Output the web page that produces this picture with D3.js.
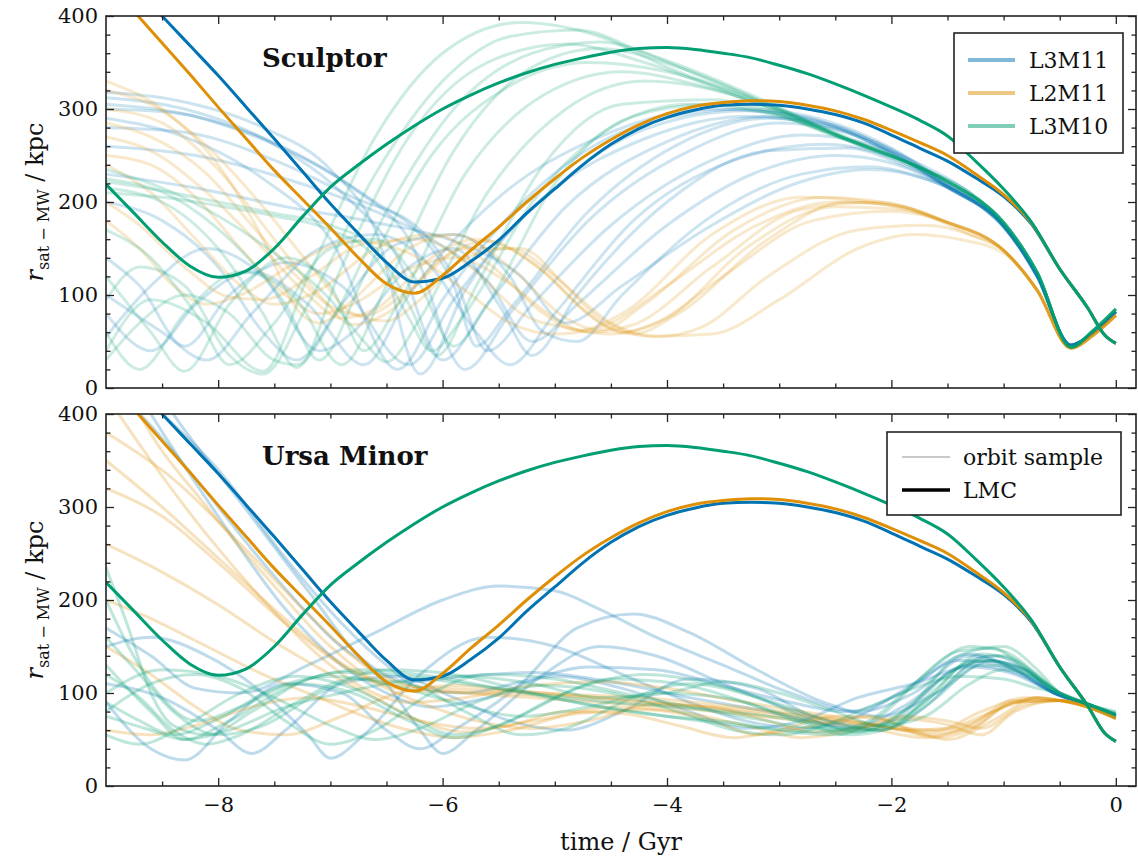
<!DOCTYPE html>
<html>
<head>
<meta charset="utf-8">
<style>
body { margin: 0; background: #fff; }
text { font-family: "DejaVu Serif", serif; fill: #111; }
.title { font-weight: bold; }
</style>
</head>
<body>
<svg id="chart" width="1138" height="860"></svg>
<script src="https://cdn.jsdelivr.net/npm/d3@7"></script>
<script>
// LMC orbits (same in both panels), r in kpc at lmcTimes (Gyr)
const lmcTimes = [-9,-8.75,-8.5,-8.25,-8,-7.75,-7.5,-7.25,-7,-6.75,-6.5,-6.25,-6,-5.75,-5.5,-5.25,-5,-4.75,-4.5,-4.25,-4,-3.75,-3.5,-3.25,-3,-2.75,-2.5,-2.25,-2,-1.75,-1.5,-1.25,-1,-0.75,-0.5,-0.25,-0.1,0];
const lmcL3M11 = [466,433,400,368,336,302,268,233,198,166,135,114,118,136,159,188,214,240,262,279,291,299,304,305,304,300,294,285,272,258,244,226,206,176,128,86,57,48];
const lmcL2M11 = [440,405,371,337,302,268,234,203,172,140,112,102,121,148,173,200,225,248,267,283,295,303,307,309,308,304,298,289,277,264,250,230,208,177,128,86,57,48];
const lmcL3M10 = [219,188,157,131,119,126,150,184,216,240,262,282,300,315,328,339,348,355,361,365,366,364,360,355,347,338,327,315,302,288,271,244,214,178,128,86,57,48];

// orbit samples, [time, r] knots
const sclL3M11 = [
  [[-9,290],[-8.3,270],[-7.6,225],[-7,160],[-6.4,20],[-6,95],[-5.2,210],[-4.3,280],[-3.3,300],[-2.6,288],[-2,258],[-1.5,220],[-1,176],[-0.7,122],[-0.4,46],[-0.2,60],[0,82]],
  [[-9,318],[-8.4,310],[-7.6,280],[-7,235],[-6.6,170],[-6.2,15],[-5.8,105],[-5,215],[-4.2,278],[-3.3,298],[-2.6,285],[-2,256],[-1.5,218],[-1,175],[-0.7,121],[-0.4,46],[-0.2,60],[0,82]],
  [[-9,312],[-8.3,300],[-7.5,262],[-6.9,210],[-6.4,140],[-6,30],[-5.6,90],[-4.9,195],[-4,265],[-3.1,292],[-2.5,282],[-2,254],[-1.5,216],[-1,174],[-0.7,120],[-0.4,46],[-0.2,59],[0,81]],
  [[-9,305],[-8.2,292],[-7.4,258],[-6.8,215],[-6.3,160],[-5.8,20],[-5.4,80],[-4.7,180],[-3.8,255],[-3,285],[-2.4,275],[-1.9,250],[-1.5,218],[-1,175],[-0.7,121],[-0.4,46],[-0.2,60],[0,82]],
  [[-9,280],[-8.3,275],[-7.5,245],[-6.8,205],[-6.2,170],[-5.9,120],[-5.6,40],[-5.2,90],[-4.5,175],[-3.6,245],[-2.8,272],[-2.2,262],[-1.7,238],[-1.2,200],[-0.9,160],[-0.7,121],[-0.4,46],[-0.2,60],[0,82]],
  [[-9,260],[-8.2,250],[-7.4,225],[-6.7,195],[-6.1,160],[-5.6,115],[-5.2,50],[-4.8,90],[-4,175],[-3.2,232],[-2.5,250],[-2,242],[-1.5,215],[-1,174],[-0.7,120],[-0.4,46],[-0.2,59],[0,81]],
  [[-9,230],[-8.2,215],[-7.4,195],[-6.6,178],[-5.9,158],[-5.3,120],[-4.9,70],[-4.4,110],[-3.6,175],[-2.8,222],[-2.2,235],[-1.7,225],[-1.2,195],[-0.9,158],[-0.7,120],[-0.4,46],[-0.2,60],[0,82]],
  [[-9,80],[-8.6,40],[-8.2,90],[-7.7,125],[-7.2,90],[-6.7,25],[-6.3,100],[-5.5,205],[-4.6,270],[-3.6,300],[-2.8,292],[-2.2,265],[-1.6,225],[-1,176],[-0.7,122],[-0.4,46],[-0.2,60],[0,82]],
  [[-9,140],[-8.7,110],[-8.3,45],[-7.9,100],[-7.4,135],[-6.9,110],[-6.3,25],[-5.9,95],[-5.1,205],[-4.2,268],[-3.3,292],[-2.6,282],[-2,253],[-1.5,216],[-1,174],[-0.7,120],[-0.4,46],[-0.2,60],[0,82]],
  [[-9,55],[-8.6,110],[-8.1,150],[-7.6,120],[-7.1,40],[-6.8,60],[-6.3,130],[-5.9,150],[-5.5,90],[-5.2,35],[-4.8,100],[-4,200],[-3.1,255],[-2.4,258],[-1.9,240],[-1.4,210],[-1,174],[-0.7,120],[-0.4,46],[-0.2,60],[0,82]],
  [[-9,100],[-8.5,60],[-8.1,30],[-7.7,80],[-7.1,150],[-6.6,165],[-6.1,130],[-5.7,60],[-5.4,25],[-5,80],[-4.3,180],[-3.4,245],[-2.6,262],[-2,248],[-1.5,216],[-1,174],[-0.7,120],[-0.4,46],[-0.2,60],[0,82]],
  [[-9,200],[-8.5,180],[-8,130],[-7.6,60],[-7.3,30],[-6.9,90],[-6.4,155],[-5.9,165],[-5.4,120],[-5.1,60],[-4.8,50],[-4.4,100],[-3.6,185],[-2.8,230],[-2.2,238],[-1.7,225],[-1.2,195],[-0.9,160],[-0.7,120],[-0.4,46],[-0.2,60],[0,82]],
  [[-9,300],[-8.4,296],[-7.7,272],[-7.1,238],[-6.6,200],[-6.2,165],[-5.9,110],[-5.7,45],[-5.4,85],[-4.7,190],[-3.9,262],[-3.1,290],[-2.5,280],[-2,252],[-1.5,216],[-1,174],[-0.7,120],[-0.4,46],[-0.2,60],[0,82]]
];
const sclL2M11 = [
  [[-9,330],[-8.5,300],[-8,240],[-7.6,160],[-7.3,85],[-7.1,70],[-6.8,95],[-6.3,150],[-5.9,165],[-5.4,130],[-4.9,75],[-4.6,62],[-4.2,90],[-3.4,170],[-2.6,205],[-2,198],[-1.5,178],[-1,148],[-0.7,105],[-0.4,43],[-0.2,57],[0,78]],
  [[-9,300],[-8.5,285],[-8,235],[-7.5,160],[-7.1,100],[-6.8,68],[-6.5,80],[-6,140],[-5.6,158],[-5.1,125],[-4.6,70],[-4.3,58],[-3.9,80],[-3.1,160],[-2.4,200],[-1.9,195],[-1.5,178],[-1,148],[-0.7,105],[-0.4,43],[-0.2,57],[0,78]],
  [[-9,270],[-8.6,255],[-8.1,210],[-7.6,150],[-7.2,100],[-6.9,75],[-6.6,85],[-6.1,140],[-5.7,160],[-5.2,135],[-4.7,80],[-4.4,60],[-4,75],[-3.3,150],[-2.5,195],[-1.9,192],[-1.5,178],[-1,148],[-0.7,105],[-0.4,43],[-0.2,57],[0,78]],
  [[-9,240],[-8.6,210],[-8.2,160],[-7.8,110],[-7.5,90],[-7.1,105],[-6.6,150],[-6.1,165],[-5.6,135],[-5.1,80],[-4.8,62],[-4.4,80],[-3.6,165],[-2.8,205],[-2.2,200],[-1.7,186],[-1.3,165],[-1,148],[-0.7,105],[-0.4,43],[-0.2,57],[0,78]],
  [[-9,200],[-8.7,175],[-8.3,130],[-7.9,98],[-7.6,95],[-7.2,118],[-6.7,155],[-6.2,160],[-5.7,125],[-5.3,80],[-4.9,65],[-4.5,58],[-4.1,70],[-3.5,120],[-2.7,180],[-2,190],[-1.5,178],[-1,148],[-0.7,105],[-0.4,43],[-0.2,57],[0,78]],
  [[-9,320],[-8.6,305],[-8.1,260],[-7.6,195],[-7.1,120],[-6.8,80],[-6.5,72],[-6.2,95],[-5.8,140],[-5.4,150],[-5,120],[-4.6,75],[-4.1,55],[-3.7,65],[-3.1,120],[-2.3,170],[-1.7,175],[-1.3,165],[-1,148],[-0.7,105],[-0.4,43],[-0.2,57],[0,78]],
  [[-9,180],[-8.7,150],[-8.4,110],[-8.1,90],[-7.8,100],[-7.3,135],[-6.8,158],[-6.3,145],[-5.8,105],[-5.4,70],[-5,58],[-4.6,65],[-4,110],[-3.2,175],[-2.5,200],[-1.9,195],[-1.5,178],[-1,148],[-0.7,105],[-0.4,43],[-0.2,57],[0,78]],
  [[-9,285],[-8.6,270],[-8.1,230],[-7.7,175],[-7.3,120],[-7,88],[-6.7,78],[-6.3,105],[-5.8,150],[-5.3,150],[-4.9,110],[-4.5,70],[-4.1,56],[-3.6,58],[-3,95],[-2.3,150],[-1.8,165],[-1.4,160],[-1,145],[-0.7,105],[-0.4,43],[-0.2,57],[0,78]],
  [[-9,250],[-8.6,240],[-8.2,205],[-7.8,150],[-7.4,100],[-7.1,80],[-6.8,90],[-6.3,128],[-5.9,140],[-5.4,112],[-5,75],[-4.7,60],[-4.3,68],[-3.6,130],[-2.8,192],[-2.1,200],[-1.6,182],[-1,148],[-0.7,105],[-0.4,43],[-0.2,57],[0,78]]
];
const sclL3M10 = [
  [[-9,40],[-8.6,95],[-8.1,70],[-7.6,18],[-7.2,120],[-6.6,270],[-6,360],[-5.3,393],[-4.6,378],[-4,345],[-3,300],[-2.3,262],[-1.7,232],[-1.2,198],[-0.9,160],[-0.7,124],[-0.4,44],[-0.2,62],[0,85]],
  [[-9,215],[-8.5,200],[-8,150],[-7.6,80],[-7.3,22],[-6.9,130],[-6.3,270],[-5.6,350],[-4.9,370],[-4.2,350],[-3.4,315],[-2.6,275],[-2,250],[-1.5,222],[-1,178],[-0.7,124],[-0.4,44],[-0.2,62],[0,85]],
  [[-9,225],[-8.4,205],[-7.9,160],[-7.4,90],[-7.1,30],[-6.7,120],[-6.1,250],[-5.4,325],[-4.7,350],[-4,340],[-3.2,308],[-2.5,272],[-2,250],[-1.5,222],[-1,178],[-0.7,124],[-0.4,44],[-0.2,62],[0,85]],
  [[-9,120],[-8.6,60],[-8.3,18],[-7.9,90],[-7.4,140],[-7,110],[-6.7,40],[-6.4,90],[-5.8,230],[-5.1,315],[-4.4,340],[-3.7,325],[-3,298],[-2.4,268],[-1.9,245],[-1.5,222],[-1,178],[-0.7,124],[-0.4,44],[-0.2,62],[0,85]],
  [[-9,222],[-8.5,212],[-8,200],[-7.5,188],[-7,175],[-6.6,150],[-6.3,90],[-6.05,35],[-5.7,110],[-5.1,240],[-4.4,305],[-3.6,310],[-2.9,290],[-2.3,262],[-1.8,240],[-1.4,215],[-1,178],[-0.7,124],[-0.4,44],[-0.2,62],[0,85]],
  [[-9,60],[-8.7,20],[-8.3,80],[-7.8,125],[-7.3,95],[-6.9,25],[-6.5,110],[-5.9,255],[-5.2,345],[-4.6,365],[-3.9,345],[-3.1,305],[-2.4,268],[-1.9,245],[-1.5,222],[-1,178],[-0.7,124],[-0.4,44],[-0.2,62],[0,85]],
  [[-9,210],[-8.5,205],[-8,196],[-7.5,185],[-7,170],[-6.6,140],[-6.3,75],[-6.1,40],[-5.8,80],[-5.2,200],[-4.5,280],[-3.8,305],[-3.1,295],[-2.5,272],[-2,250],[-1.5,222],[-1,178],[-0.7,124],[-0.4,44],[-0.2,62],[0,85]],
  [[-9,95],[-8.7,130],[-8.3,110],[-7.9,35],[-7.6,15],[-7.2,90],[-6.6,230],[-6,330],[-5.4,378],[-4.8,385],[-4.2,360],[-3.5,325],[-2.8,290],[-2.2,258],[-1.7,235],[-1.3,210],[-1,178],[-0.7,124],[-0.4,44],[-0.2,62],[0,85]],
  [[-9,170],[-8.6,140],[-8.2,80],[-7.9,25],[-7.5,70],[-7,150],[-6.6,160],[-6.2,110],[-5.9,45],[-5.6,90],[-5,220],[-4.3,292],[-3.6,305],[-2.9,290],[-2.3,262],[-1.8,240],[-1.4,215],[-1,178],[-0.7,124],[-0.4,44],[-0.2,62],[0,85]],
  [[-9,235],[-8.5,215],[-8,185],[-7.5,145],[-7,95],[-6.7,50],[-6.5,28],[-6.2,75],[-5.6,210],[-4.9,300],[-4.2,330],[-3.5,318],[-2.8,288],[-2.2,258],[-1.7,235],[-1.3,210],[-1,178],[-0.7,124],[-0.4,44],[-0.2,62],[0,85]],
  [[-9,30],[-8.7,70],[-8.3,100],[-7.9,80],[-7.5,30],[-7.3,25],[-7,70],[-6.5,190],[-5.9,300],[-5.2,360],[-4.6,372],[-4,352],[-3.3,318],[-2.6,280],[-2,250],[-1.5,222],[-1,178],[-0.7,124],[-0.4,44],[-0.2,62],[0,85]]
];

const umiL3M11 = [
  [[-9,520],[-8.4,400],[-7.8,305],[-7.2,210],[-6.7,135],[-6.3,112],[-5.8,118],[-5.2,122],[-4.5,112],[-3.8,95],[-3.1,80],[-2.5,65],[-2.1,60],[-1.7,85],[-1.2,135],[-0.8,125],[-0.55,100],[-0.25,88],[0,76]],
  [[-9,480],[-8.6,400],[-8,290],[-7.4,190],[-6.9,130],[-6.5,100],[-6.1,85],[-5.6,95],[-5,118],[-4.4,105],[-3.8,80],[-3.3,62],[-2.8,70],[-2.3,95],[-1.8,110],[-1.3,128],[-0.9,120],[-0.55,100],[-0.25,88],[0,76]],
  [[-9,430],[-8.7,400],[-8.2,330],[-7.6,240],[-7,160],[-6.5,110],[-6.2,60],[-6,35],[-5.7,60],[-5.1,120],[-4.6,150],[-4.1,140],[-3.5,110],[-2.9,82],[-2.4,62],[-2,70],[-1.5,120],[-1.1,140],[-0.8,125],[-0.55,100],[-0.25,88],[0,76]],
  [[-9,170],[-8.6,140],[-8.2,105],[-7.8,100],[-7.2,130],[-6.6,165],[-6,200],[-5.5,215],[-5,210],[-4.6,190],[-4.1,160],[-3.5,130],[-2.9,100],[-2.3,80],[-1.8,100],[-1.3,140],[-0.9,125],[-0.55,100],[-0.25,88],[0,76]],
  [[-9,90],[-8.6,40],[-8.3,28],[-7.9,70],[-7.4,110],[-6.9,100],[-6.5,60],[-6.2,40],[-5.9,60],[-5.3,110],[-4.8,170],[-4.3,185],[-3.8,165],[-3.2,125],[-2.6,90],[-2.1,75],[-1.6,100],[-1.1,135],[-0.8,122],[-0.55,100],[-0.25,88],[0,76]],
  [[-9,110],[-8.5,95],[-8,60],[-7.7,35],[-7.4,60],[-6.9,110],[-6.4,118],[-5.9,95],[-5.4,70],[-4.9,60],[-4.4,80],[-3.8,115],[-3.2,105],[-2.7,75],[-2.3,65],[-1.9,85],[-1.3,130],[-0.9,122],[-0.55,100],[-0.25,88],[0,76]],
  [[-9,450],[-8.5,400],[-8,340],[-7.4,245],[-6.9,175],[-6.5,130],[-6.2,105],[-5.8,100],[-5.3,112],[-4.7,128],[-4.1,125],[-3.5,108],[-2.9,90],[-2.4,80],[-1.9,100],[-1.4,135],[-0.9,125],[-0.55,100],[-0.25,88],[0,76]],
  [[-9,150],[-8.6,160],[-8.1,140],[-7.6,100],[-7.2,55],[-7,30],[-6.7,55],[-6.2,120],[-5.6,160],[-5,150],[-4.4,120],[-3.8,90],[-3.3,70],[-2.8,62],[-2.3,75],[-1.8,110],[-1.3,142],[-0.9,125],[-0.55,100],[-0.25,88],[0,76]]
];
const umiL2M11 = [
  [[-9,480],[-8.7,400],[-8.1,300],[-7.5,215],[-7,150],[-6.5,110],[-6,105],[-5.4,102],[-4.8,98],[-4.2,95],[-3.6,88],[-3,80],[-2.4,70],[-1.9,62],[-1.6,60],[-1.2,80],[-0.8,95],[-0.5,92],[-0.25,85],[0,73]],
  [[-9,380],[-8.4,330],[-7.8,260],[-7.2,185],[-6.7,130],[-6.3,108],[-5.8,100],[-5.2,95],[-4.6,90],[-4,85],[-3.4,78],[-2.8,70],[-2.2,62],[-1.7,52],[-1.3,65],[-0.9,92],[-0.5,92],[-0.25,85],[0,73]],
  [[-9,320],[-8.5,290],[-8,240],[-7.4,175],[-6.9,130],[-6.5,105],[-6.1,85],[-5.7,70],[-5.2,62],[-4.7,70],[-4.1,88],[-3.6,85],[-3.1,70],[-2.7,58],[-2.3,62],[-1.9,75],[-1.5,70],[-1.2,62],[-0.8,88],[-0.5,92],[-0.25,85],[0,73]],
  [[-9,260],[-8.5,230],[-8,195],[-7.5,155],[-7,120],[-6.6,95],[-6.2,70],[-5.8,58],[-5.4,65],[-4.9,80],[-4.4,78],[-3.9,65],[-3.4,52],[-3,60],[-2.5,75],[-2.1,72],[-1.7,55],[-1.3,62],[-0.9,90],[-0.5,92],[-0.25,85],[0,73]],
  [[-9,200],[-8.6,180],[-8.1,150],[-7.6,120],[-7.1,95],[-6.7,75],[-6.3,60],[-5.9,52],[-5.4,60],[-4.8,78],[-4.2,82],[-3.6,70],[-3.2,55],[-2.8,62],[-2.2,75],[-1.8,60],[-1.5,50],[-1.1,70],[-0.7,95],[-0.5,92],[-0.25,85],[0,73]],
  [[-9,60],[-8.6,55],[-8.2,65],[-7.7,85],[-7.2,95],[-6.7,85],[-6.2,70],[-5.7,62],[-5.1,72],[-4.5,85],[-3.9,80],[-3.3,65],[-2.8,52],[-2.4,58],[-1.9,72],[-1.5,66],[-1.2,55],[-0.9,80],[-0.5,92],[-0.25,85],[0,73]],
  [[-9,150],[-8.6,120],[-8.2,85],[-7.8,60],[-7.4,55],[-6.9,75],[-6.4,100],[-5.9,108],[-5.3,102],[-4.7,96],[-4.1,90],[-3.5,84],[-2.9,77],[-2.3,68],[-1.9,60],[-1.6,52],[-1.3,60],[-0.9,90],[-0.5,92],[-0.25,85],[0,73]],
  [[-9,420],[-8.6,350],[-8.1,270],[-7.6,200],[-7.1,140],[-6.7,105],[-6.3,90],[-5.8,95],[-5.2,108],[-4.6,112],[-4,105],[-3.4,92],[-2.8,80],[-2.3,70],[-1.9,60],[-1.5,62],[-1.1,80],[-0.7,95],[-0.5,92],[-0.25,85],[0,73]],
  [[-9,350],[-8.5,300],[-8,245],[-7.5,190],[-7,140],[-6.6,112],[-6.2,102],[-5.6,100],[-5,97],[-4.4,92],[-3.8,86],[-3.2,78],[-2.6,70],[-2.1,64],[-1.7,58],[-1.4,62],[-1,85],[-0.7,95],[-0.5,92],[-0.25,85],[0,72]]
];
const umiL3M10 = [
  [[-9,235],[-8.8,170],[-8.6,100],[-8.4,65],[-8.1,55],[-7.7,80],[-7.2,115],[-6.7,125],[-6.1,118],[-5.5,105],[-4.9,92],[-4.3,80],[-3.7,70],[-3.1,62],[-2.6,58],[-2.2,70],[-1.8,110],[-1.4,145],[-1.1,148],[-0.8,125],[-0.5,100],[-0.25,88],[0,77]],
  [[-9,120],[-8.7,95],[-8.4,60],[-8.1,45],[-7.8,55],[-7.3,90],[-6.8,115],[-6.3,110],[-5.8,80],[-5.3,55],[-4.9,62],[-4.3,95],[-3.8,110],[-3.2,95],[-2.7,70],[-2.3,58],[-1.9,80],[-1.4,128],[-1.1,135],[-0.8,120],[-0.5,100],[-0.25,88],[0,77]],
  [[-9,80],[-8.6,110],[-8.2,120],[-7.8,105],[-7.4,70],[-7,45],[-6.6,60],[-6.1,100],[-5.6,120],[-5,115],[-4.4,100],[-3.8,85],[-3.2,72],[-2.7,62],[-2.2,60],[-1.8,90],[-1.4,140],[-1,150],[-0.7,125],[-0.5,100],[-0.25,88],[0,77]],
  [[-9,55],[-8.7,45],[-8.3,65],[-7.8,100],[-7.3,118],[-6.8,105],[-6.3,75],[-5.9,55],[-5.5,65],[-5,95],[-4.5,115],[-3.9,110],[-3.3,90],[-2.8,68],[-2.4,55],[-2,62],[-1.6,95],[-1.2,130],[-0.9,128],[-0.5,100],[-0.25,88],[0,77]],
  [[-9,100],[-8.5,125],[-8,118],[-7.5,95],[-7,65],[-6.6,50],[-6.2,62],[-5.7,90],[-5.1,108],[-4.5,100],[-3.9,80],[-3.4,60],[-3,55],[-2.6,65],[-2.2,85],[-1.8,105],[-1.4,118],[-1,115],[-0.7,105],[-0.5,100],[-0.25,88],[0,77]],
  [[-9,160],[-8.7,120],[-8.4,80],[-8,55],[-7.6,65],[-7.1,100],[-6.5,125],[-5.9,120],[-5.2,100],[-4.6,85],[-4,75],[-3.4,68],[-2.9,58],[-2.5,55],[-2.1,75],[-1.7,120],[-1.3,150],[-1,145],[-0.7,120],[-0.5,100],[-0.25,88],[0,77]],
  [[-9,75],[-8.6,60],[-8.3,50],[-7.9,60],[-7.4,85],[-6.9,100],[-6.4,112],[-5.8,118],[-5.2,110],[-4.6,95],[-4,100],[-3.5,112],[-3,100],[-2.5,80],[-2.1,65],[-1.7,75],[-1.3,110],[-1,125],[-0.7,115],[-0.5,100],[-0.25,88],[0,77]],
  [[-9,200],[-8.8,150],[-8.5,95],[-8.2,70],[-7.8,85],[-7.3,110],[-6.8,100],[-6.3,70],[-5.9,52],[-5.4,70],[-4.8,105],[-4.2,120],[-3.6,110],[-3,88],[-2.5,68],[-2.1,60],[-1.7,90],[-1.3,135],[-1,140],[-0.7,118],[-0.5,100],[-0.25,88],[0,80]],
  [[-9,130],[-8.6,80],[-8.3,50],[-7.9,70],[-7.4,105],[-6.9,122],[-6.3,118],[-5.7,108],[-5.1,98],[-4.5,90],[-3.9,85],[-3.3,78],[-2.8,70],[-2.4,62],[-2,68],[-1.6,100],[-1.2,135],[-0.9,130],[-0.5,100],[-0.25,88],[0,79]],
  [[-9,90],[-8.7,70],[-8.4,55],[-8,72],[-7.5,105],[-7,118],[-6.5,110],[-5.9,90],[-5.3,75],[-4.7,85],[-4.1,100],[-3.5,95],[-2.9,75],[-2.4,58],[-2,65],[-1.6,105],[-1.2,142],[-0.9,135],[-0.5,100],[-0.25,88],[0,74]]
];

const models = ["L3M11", "L2M11", "L3M10"];
const colors = {L3M11: "#0173b2", L2M11: "#de8f05", L3M10: "#029e73"};
const lmcOrbits = {L3M11: lmcL3M11, L2M11: lmcL2M11, L3M10: lmcL3M10};
const xMajor = [-8, -6, -4, -2, 0];
const xMinor = [-8.5, -7.5, -7, -6.5, -5.5, -5, -4.5, -3.5, -3, -2.5, -1.5, -1, -0.5];
const yMajor = [0, 100, 200, 300, 400];
const yMinor = [20, 40, 60, 80, 120, 140, 160, 180, 220, 240, 260, 280, 320, 340, 360, 380];

const panels = [
  {id: "scl", name: "Sculptor", top: 16, bottom: 388, alpha: 0.2, samples: {L3M11: sclL3M11, L2M11: sclL2M11, L3M10: sclL3M10}},
  {id: "umi", name: "Ursa Minor", top: 414, bottom: 786, alpha: 0.26, samples: {L3M11: umiL3M11, L2M11: umiL2M11, L3M10: umiL3M10}}
];

const svg = d3.select("#chart");
const x = d3.scaleLinear().domain([-9, 0.18]).range([106, 1136]);
const left = 106, right = 1136;

panels.forEach((p, pi) => {
  const y = d3.scaleLinear().domain([0, 400]).range([p.bottom, p.top]);
  const line = d3.line().x(d => x(d[0])).y(d => y(d[1])).curve(d3.curveMonotoneX);

  svg.append("clipPath").attr("id", "clip-" + p.id)
    .append("rect").attr("x", left).attr("y", p.top)
    .attr("width", right - left).attr("height", p.bottom - p.top);

  const plot = svg.append("g").attr("clip-path", "url(#clip-" + p.id + ")");

  // samples
  models.forEach(m => {
    plot.append("g").selectAll("path")
      .data(p.samples[m])
      .enter()
      .append("path")
      .attr("d", d => line(d))
      .style("fill", "none")
      .style("stroke", colors[m])
      .style("stroke-opacity", p.alpha)
      .style("stroke-width", 3);
  });

  // LMC
  models.forEach(m => {
    const pts = lmcTimes.map((t, i) => [t, lmcOrbits[m][i]]);
    plot.append("path")
      .attr("d", line(pts))
      .style("fill", "none")
      .style("stroke", colors[m])
      .style("stroke-width", 3);
  });

  // axes, ticks inward on all sides
  const tickStyle = g => {
    g.select(".domain").remove();
    g.selectAll("line").style("stroke", "#222").style("stroke-width", 1.3);
    g.selectAll("text").style("font-family", "DejaVu Serif").style("font-size", "21px").style("fill", "#111");
  };
  const isLast = pi === panels.length - 1;

  svg.append("g").attr("transform", `translate(0,${p.bottom})`)
    .call(d3.axisBottom(x).tickValues(xMajor).tickSize(-8).tickPadding(11)
      .tickFormat(isLast ? d3.format("d") : ""))
    .call(tickStyle);
  svg.append("g").attr("transform", `translate(0,${p.bottom})`)
    .call(d3.axisBottom(x).tickValues(xMinor).tickSize(-4.5).tickFormat(""))
    .call(tickStyle);
  svg.append("g").attr("transform", `translate(0,${p.top})`)
    .call(d3.axisTop(x).tickValues(xMajor).tickSize(-8).tickFormat(""))
    .call(tickStyle);
  svg.append("g").attr("transform", `translate(0,${p.top})`)
    .call(d3.axisTop(x).tickValues(xMinor).tickSize(-4.5).tickFormat(""))
    .call(tickStyle);
  svg.append("g").attr("transform", `translate(${left},0)`)
    .call(d3.axisLeft(y).tickValues(yMajor).tickSize(-8).tickPadding(8).tickFormat(d3.format("d")))
    .call(tickStyle);
  svg.append("g").attr("transform", `translate(${left},0)`)
    .call(d3.axisLeft(y).tickValues(yMinor).tickSize(-4.5).tickFormat(""))
    .call(tickStyle);
  svg.append("g").attr("transform", `translate(${right},0)`)
    .call(d3.axisRight(y).tickValues(yMajor).tickSize(-8).tickFormat(""))
    .call(tickStyle);
  svg.append("g").attr("transform", `translate(${right},0)`)
    .call(d3.axisRight(y).tickValues(yMinor).tickSize(-4.5).tickFormat(""))
    .call(tickStyle);

  svg.append("rect")
    .attr("x", left).attr("y", p.top)
    .attr("width", right - left).attr("height", p.bottom - p.top)
    .style("fill", "none").style("stroke", "#222").style("stroke-width", 1.6);

  // panel title
  svg.append("text").attr("class", "title")
    .attr("x", 262).attr("y", p.top + 51)
    .style("font-size", "26px")
    .text(p.name);

  // y label
  const yl = svg.append("text")
    .attr("transform", `translate(43,${(p.top + p.bottom) / 2}) rotate(-90)`)
    .attr("text-anchor", "middle")
    .style("font-size", "24px");
  yl.append("tspan").style("font-style", "italic").text("r");
  yl.append("tspan").attr("dy", 6).style("font-size", "16px").text("sat − MW");
  yl.append("tspan").attr("dy", -6).text(" / kpc");
});

svg.append("text")
  .attr("x", 621).attr("y", 850)
  .attr("text-anchor", "middle")
  .style("font-size", "24px")
  .text("time / Gyr");

// legend: models
const lg1 = svg.append("g");
lg1.append("rect").attr("x", 954).attr("y", 33).attr("width", 169).attr("height", 120)
  .style("fill", "#fff").style("stroke", "#222").style("stroke-width", 1.6);
models.forEach((m, i) => {
  const yy = 60 + i * 33;
  lg1.append("line").attr("x1", 968).attr("x2", 1015).attr("y1", yy).attr("y2", yy)
    .style("stroke", colors[m]).style("stroke-opacity", 0.5).style("stroke-width", 4);
  lg1.append("text").attr("x", 1029).attr("y", yy + 8).style("font-size", "22px").text(m);
});

// legend: line kinds
const lg2 = svg.append("g");
lg2.append("rect").attr("x", 887).attr("y", 432).attr("width", 234).attr("height", 83)
  .style("fill", "#fff").style("stroke", "#222").style("stroke-width", 1.6);
const kinds = [{label: "orbit sample", color: "#c8c8c8", width: 2.2}, {label: "LMC", color: "#000", width: 3.6}];
kinds.forEach((k, i) => {
  const yy = 457 + i * 33;
  lg2.append("line").attr("x1", 902).attr("x2", 950).attr("y1", yy).attr("y2", yy)
    .style("stroke", k.color).style("stroke-width", k.width);
  lg2.append("text").attr("x", 963).attr("y", yy + 8).style("font-size", "22px").text(k.label);
});
</script>
</body>
</html>
